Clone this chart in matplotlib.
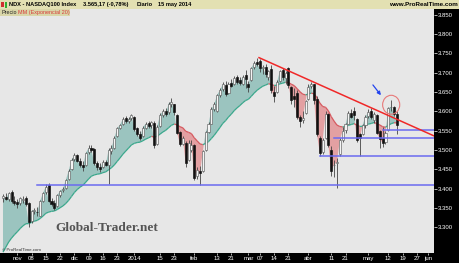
import matplotlib
matplotlib.use("Agg")
import matplotlib.pyplot as plt
from matplotlib.patches import Rectangle, Ellipse, FancyArrowPatch
from matplotlib.collections import LineCollection
import numpy as np
import pandas as pd

# ---------------------------------------------------------------- datos
first_day = "2013-10-25"
last_axis_day = "2014-06-03"
holidays = ["2013-11-28", "2013-12-25", "2014-01-01", "2014-01-20",
            "2014-02-17", "2014-04-18", "2014-05-26"]

# NDX diario (25 oct 2013 - 15 may 2014)
opens = [3375, 3378, 3372, 3390, 3368,
         3366, 3362, 3370, 3375, 3362, 3315, 3342, 3340, 3330, 3368,
         3390, 3408, 3368, 3362, 3355, 3382, 3396, 3402, 3424, 3450,
         3476, 3486, 3470, 3460, 3460, 3494, 3505, 3502, 3465, 3455,
         3455, 3468, 3462, 3498, 3505, 3535, 3556, 3566, 3582, 3575, 3582,
         3585, 3556, 3542, 3535, 3558, 3570, 3565, 3570, 3515, 3562,
         3590, 3600, 3598, 3620, 3618, 3590, 3546, 3515, 3518, 3475, 3500,
         3512, 3432, 3446, 3445, 3500, 3546, 3568, 3606, 3600, 3642,
         3658, 3668, 3648, 3674, 3670, 3688, 3680, 3672, 3694,
         3672, 3680, 3714, 3728, 3730, 3712, 3716, 3690, 3710, 3650,
         3650, 3678, 3708, 3686, 3712, 3662, 3640, 3648, 3585, 3578, 3596,
         3632, 3666, 3670, 3632, 3530, 3495, 3530, 3592, 3500, 3460,
         3465, 3490, 3526, 3552, 3568, 3596, 3602, 3580, 3540, 3540, 3565,
         3588, 3602, 3578, 3590, 3548, 3530, 3520, 3552, 3610, 3612, 3594]
highs = [3385, 3388, 3392, 3395, 3380,
         3374, 3378, 3380, 3380, 3366, 3345, 3350, 3352, 3370, 3392,
         3412, 3414, 3375, 3370, 3385, 3396, 3405, 3425, 3450, 3478,
         3492, 3490, 3478, 3470, 3495, 3512, 3512, 3505, 3470, 3465,
         3475, 3475, 3505, 3512, 3535, 3560, 3568, 3585, 3588, 3585, 3592,
         3588, 3560, 3548, 3562, 3572, 3575, 3576, 3574, 3565, 3595,
         3606, 3608, 3625, 3635, 3620, 3594, 3550, 3535, 3522, 3525, 3525,
         3515, 3455, 3458, 3500, 3550, 3572, 3610, 3625, 3645, 3660,
         3675, 3678, 3676, 3684, 3692, 3695, 3690, 3694, 3708,
         3678, 3716, 3730, 3739, 3736, 3720, 3722, 3708, 3720, 3665,
         3680, 3708, 3712, 3705, 3716, 3665, 3660, 3654, 3590, 3600, 3630,
         3670, 3676, 3672, 3640, 3535, 3530, 3600, 3596, 3510, 3475,
         3478, 3530, 3560, 3570, 3600, 3605, 3612, 3582, 3545, 3568, 3590,
         3606, 3608, 3598, 3592, 3552, 3560, 3548, 3612, 3630, 3614, 3600]
lows = [3365, 3370, 3368, 3362, 3358,
        3350, 3358, 3362, 3355, 3300, 3310, 3335, 3330, 3328, 3365,
        3386, 3365, 3355, 3345, 3352, 3378, 3390, 3400, 3422, 3448,
        3470, 3468, 3455, 3445, 3458, 3490, 3495, 3460, 3448, 3442,
        3452, 3458, 3412, 3490, 3503, 3533, 3554, 3564, 3570, 3570, 3578,
        3550, 3536, 3525, 3533, 3555, 3558, 3558, 3505, 3512, 3560,
        3586, 3588, 3594, 3612, 3590, 3540, 3510, 3512, 3455, 3470, 3495,
        3422, 3425, 3410, 3443, 3498, 3544, 3566, 3600, 3598, 3638,
        3652, 3640, 3645, 3662, 3668, 3672, 3668, 3668, 3660,
        3650, 3678, 3710, 3718, 3702, 3696, 3690, 3680, 3648, 3625,
        3648, 3676, 3680, 3672, 3660, 3618, 3610, 3580, 3560, 3570, 3594,
        3630, 3660, 3618, 3535, 3485, 3490, 3528, 3508, 3432, 3430,
        3402, 3485, 3520, 3545, 3566, 3582, 3578, 3520, 3484, 3538, 3556,
        3582, 3580, 3570, 3540, 3505, 3508, 3515, 3550, 3600, 3588, 3540]
closes = [3380, 3372, 3388, 3368, 3362,
          3360, 3375, 3372, 3360, 3312, 3342, 3345, 3338, 3368, 3388,
          3405, 3368, 3360, 3350, 3382, 3394, 3400, 3422, 3446, 3474,
          3486, 3472, 3462, 3456, 3492, 3505, 3500, 3465, 3455, 3450,
          3468, 3462, 3500, 3505, 3530, 3556, 3565, 3580, 3574, 3580, 3590,
          3555, 3540, 3530, 3558, 3568, 3563, 3572, 3512, 3560, 3590,
          3600, 3592, 3620, 3625, 3598, 3544, 3515, 3530, 3465, 3518, 3512,
          3428, 3448, 3440, 3496, 3546, 3566, 3605, 3618, 3642, 3655,
          3670, 3646, 3672, 3666, 3686, 3676, 3674, 3690, 3684,
          3662, 3712, 3726, 3722, 3712, 3714, 3696, 3704, 3654, 3640,
          3676, 3704, 3688, 3698, 3668, 3630, 3632, 3586, 3575, 3582, 3626,
          3664, 3670, 3628, 3540, 3492, 3526, 3592, 3512, 3445, 3462,
          3468, 3526, 3550, 3566, 3596, 3586, 3590, 3526, 3530, 3565, 3586,
          3598, 3584, 3594, 3545, 3528, 3518, 3545, 3608, 3612, 3593.2, 3565.17]

ema_seed = 3220      # valor de la MM20 antes de la primera vela visible
ema_span = 20

# soportes (valor, fecha de inicio) y directriz bajista
support_levels = [3410, 3483, 3530, 3551]
support_start = ["2013-11-12", "2014-04-07", "2014-04-14", "2014-05-08"]
trend_days = ["2014-03-06", "2014-05-15"]
trend_values = [3739, 3577]
arrow_days = ["2014-05-02", "2014-05-08"]
arrow_values = [3674, 3636]
circle_day = "2014-05-13"
circle_value = 3617

y_ticks = list(range(3300, 3851, 50))
x_labels = [("2013-11-01", "nov"), ("2013-11-08", "08"), ("2013-11-15", "15"),
            ("2013-11-22", "22"), ("2013-12-02", "dic"), ("2013-12-09", "09"),
            ("2013-12-16", "16"), ("2013-12-23", "23"), ("2014-01-02", "2014"),
            ("2014-01-15", "15"), ("2014-01-23", "23"), ("2014-02-03", "feb"),
            ("2014-02-13", "13"), ("2014-02-21", "21"), ("2014-03-03", "mar"),
            ("2014-03-07", "07"), ("2014-03-14", "14"), ("2014-03-21", "21"),
            ("2014-04-01", "abr"), ("2014-04-11", "11"), ("2014-04-21", "21"),
            ("2014-05-01", "may"), ("2014-05-12", "12"), ("2014-05-19", "19"),
            ("2014-05-27", "27"), ("2014-06-02", "jun")]

# ---------------------------------------------------------------- calendario
days = pd.bdate_range(first_day, last_axis_day)
days = days[~days.isin(pd.to_datetime(holidays))]
pos = {d.strftime("%Y-%m-%d"): i for i, d in enumerate(days)}

n = len(closes)
x = np.arange(n)
o = np.array(opens, float)
h = np.array(highs, float)
l = np.array(lows, float)
c = np.array(closes, float)
ema = pd.Series([ema_seed] + closes).ewm(span=ema_span, adjust=False).mean().to_numpy()[1:]

plt.rcParams["font.family"] = ["Liberation Sans", "DejaVu Sans"]

W, H = 460, 263
fig = plt.figure(figsize=(W / 100, H / 100), dpi=100, facecolor="black")
ax = fig.add_axes([0, 10 / H, 434 / W, 244 / H])
ax.set_facecolor("#e7e7e7")
for s in ax.spines.values():
    s.set_visible(False)

# relleno precio / MM
above = c >= ema
ax.fill_between(x, c, ema, where=above, interpolate=True, color="#9bc4bf", lw=0, zorder=1)
ax.fill_between(x, c, ema, where=~above, interpolate=True, color="#e3a0a2", lw=0, zorder=1)
segs = [[(x[i], ema[i]), (x[i + 1], ema[i + 1])] for i in range(n - 1)]
cols = ["#3aa88c" if above[i + 1] else "#d65a60" for i in range(n - 1)]
ax.add_collection(LineCollection(segs, colors=cols, linewidths=0.9, zorder=2))

# velas
up = c >= o
ax.vlines(x, l, h, color="#444444", lw=0.6, zorder=3)
ax.bar(x[up], (c - o)[up], bottom=o[up], width=0.72, color="#f4f4f4",
       edgecolor="#606060", linewidth=0.45, zorder=4)
ax.bar(x[~up], (o - c)[~up], bottom=c[~up], width=0.72, color="#111111",
       edgecolor="#111111", linewidth=0.45, zorder=4)

x_right = 151
for lev, d0 in zip(support_levels, support_start):
    ax.plot([pos[d0], x_right], [lev, lev], color="#6a6af0", lw=1.1, zorder=5)

tx = [pos[d] + 0.7 for d in trend_days]
slope = (trend_values[1] - trend_values[0]) / (tx[1] - tx[0])
ax.plot([tx[0], x_right], [trend_values[0], trend_values[0] + slope * (x_right - tx[0])],
        color="#f02828", lw=1.1, zorder=6)

ax.add_patch(FancyArrowPatch((pos[arrow_days[0]], arrow_values[0]),
                             (pos[arrow_days[1]], arrow_values[1]),
                             arrowstyle="-|>", mutation_scale=5, color="#2244ee",
                             lw=0.9, zorder=7))
ax.add_patch(Ellipse((pos[circle_day], circle_value), 6.0, 49, fill=False,
                     edgecolor="#e87a7a", lw=0.8, zorder=7))

ax.set_xlim(-1.05, x_right)
ax.set_ylim(3233, 3865)
ax.yaxis.tick_right()
ax.set_yticks(y_ticks)
ax.set_yticklabels([f"{v / 1000:.3f}" for v in y_ticks])
ax.set_xticks([pos[d] for d, _ in x_labels])
ax.set_xticklabels([t for _, t in x_labels])
ax.tick_params(axis="y", colors="white", labelsize=4.3, length=2, width=0.5, pad=1)
ax.tick_params(axis="x", colors="white", labelsize=4.3, length=1.5, width=0.5, pad=0.8)

# cabecera
fig.patches.append(Rectangle((0, 1 - 9 / H), 1, 9 / H, transform=fig.transFigure,
                             facecolor="#e3e0b2", edgecolor="none", zorder=0))
fig.patches.append(Rectangle((0, 1 - 15.5 / H), 70 / W, 6.5 / H, transform=fig.transFigure,
                             facecolor="#d9d6a8", edgecolor="none", zorder=5))
fig.patches.append(Rectangle((1.5 / W, 1 - 6.5 / H), 2.5 / W, 4 / H, transform=fig.transFigure,
                             facecolor="#d03030", edgecolor="none", zorder=5))
fig.patches.append(Rectangle((4.5 / W, 1 - 7.5 / H), 2.5 / W, 5.5 / H, transform=fig.transFigure,
                             facecolor="#30b030", edgecolor="none", zorder=5))
hy = 1 - 4.6 / H
hfont = dict(size=4.1, weight="bold", va="center", zorder=10)
fig.text(9 / W, hy, "NDX - NASDAQ100 Index", **hfont)
fig.text(83 / W, hy, "3.565,17 (-0,78%)", **hfont)
fig.text(137 / W, hy, "Diario", **hfont)
fig.text(158 / W, hy, "15 may 2014", **hfont)
fig.text(458 / W, hy, "www.ProRealTime.com", ha="right", **dict(hfont, size=4.5))
ly = 1 - 12.3 / H
fig.text(1.5 / W, ly, "Precio", size=3.9, va="center", color="#222222", zorder=10)
fig.text(18.5 / W, ly, "MM (Exponencial 20)", size=3.9, va="center", color="#d83a3a", zorder=10)

fig.text(55 / W, 1 - 228 / H, "Global-Trader.net", family="Liberation Serif",
         weight="bold", size=9.6, color="#555555", va="center", zorder=10)
fig.text(2 / W, 1 - 250 / H, "© ProRealTime.com", size=3.2, color="#333333", va="center", zorder=10)

fig.savefig("out.png", dpi=100, facecolor=fig.get_facecolor())
